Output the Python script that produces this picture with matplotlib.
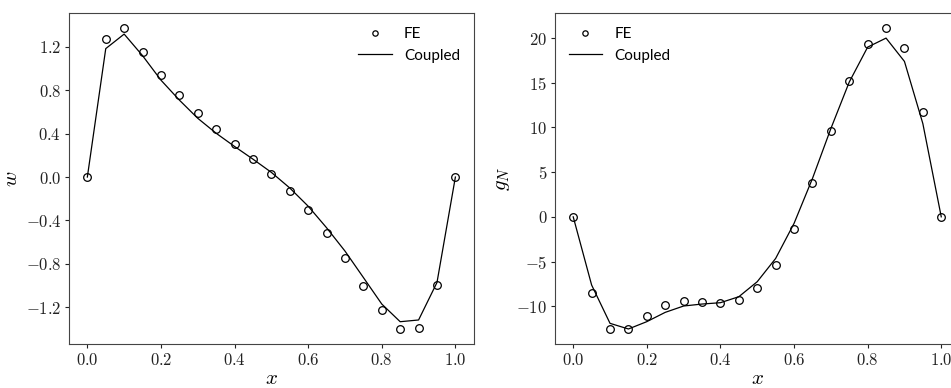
import numpy as np
import matplotlib
matplotlib.use("Agg")
import matplotlib.pyplot as plt
from matplotlib.ticker import FuncFormatter, MultipleLocator

plt.rcParams['mathtext.fontset'] = 'cm'
plt.rcParams['font.family'] = ['Lato', 'DejaVu Sans']

x = [0.0, 0.05, 0.1, 0.15, 0.2, 0.25, 0.3, 0.35, 0.4, 0.45, 0.5,
     0.55, 0.6, 0.65, 0.7, 0.75, 0.8, 0.85, 0.9, 0.95, 1.0]

w_fe = [0.0, 1.27, 1.371, 1.157, 0.943, 0.756, 0.591, 0.444, 0.303, 0.171, 0.028,
        -0.129, -0.306, -0.517, -0.750, -1.001, -1.230, -1.402, -1.396, -0.995, 0.0]
w_coupled = [0.0, 1.185, 1.319, 1.12, 0.894, 0.71, 0.542, 0.404, 0.282, 0.165, 0.043,
             -0.101, -0.269, -0.468, -0.683, -0.927, -1.172, -1.335, -1.319, -0.973, 0.0]

g_fe = [0.0, -8.53, -12.51, -12.55, -11.14, -9.91, -9.42, -9.53, -9.68, -9.35, -8.01,
        -5.36, -1.34, 3.84, 9.61, 15.16, 19.37, 21.08, 18.92, 11.69, 0.0]
g_coupled = [0.0, -7.63, -11.92, -12.55, -11.73, -10.69, -9.98, -9.76, -9.61, -8.94, -7.26,
             -4.66, -0.74, 4.28, 9.87, 15.08, 18.99, 20.0, 17.39, 10.43, 0.0]

fig = plt.figure(figsize=(9.51, 3.88), dpi=100)
ax1 = fig.add_axes([0.0725, 0.1134, 0.4257, 0.852])
ax2 = fig.add_axes([0.5834, 0.1134, 0.4257, 0.852])

fmt1 = FuncFormatter(lambda v, p: r'$%.1f$' % v)
fmt0 = FuncFormatter(lambda v, p: r'$%d$' % round(v))

for ax, fe, cp, ylab, loc, yloc, yfmt in [
        (ax1, w_fe, w_coupled, r'$w$', 'upper right', 0.4, fmt1),
        (ax2, g_fe, g_coupled, r'$g_N$', 'upper left', 5, fmt0)]:
    ax.plot(x, fe, 'o', mfc='none', mec='black', ms=5.5, mew=0.9, label='FE')
    ax.plot(x, cp, '-', color='black', lw=0.9, label='Coupled')
    ax.xaxis.set_major_locator(MultipleLocator(0.2))
    ax.yaxis.set_major_locator(MultipleLocator(yloc))
    ax.xaxis.set_major_formatter(fmt1)
    ax.yaxis.set_major_formatter(yfmt)
    ax.tick_params(labelsize=12, width=0.8, length=3, pad=2.5, colors='#222222')
    ax.set_xlabel(r'$x$', fontsize=15, labelpad=0)
    ax.set_ylabel(ylab, fontsize=15, labelpad=3)
    for s in ax.spines.values():
        s.set_color('#444444')
    ax.legend(loc=loc, frameon=False, fontsize=11, markerscale=0.7,
              handlelength=2.2)

fig.savefig('out.png', dpi=100)
